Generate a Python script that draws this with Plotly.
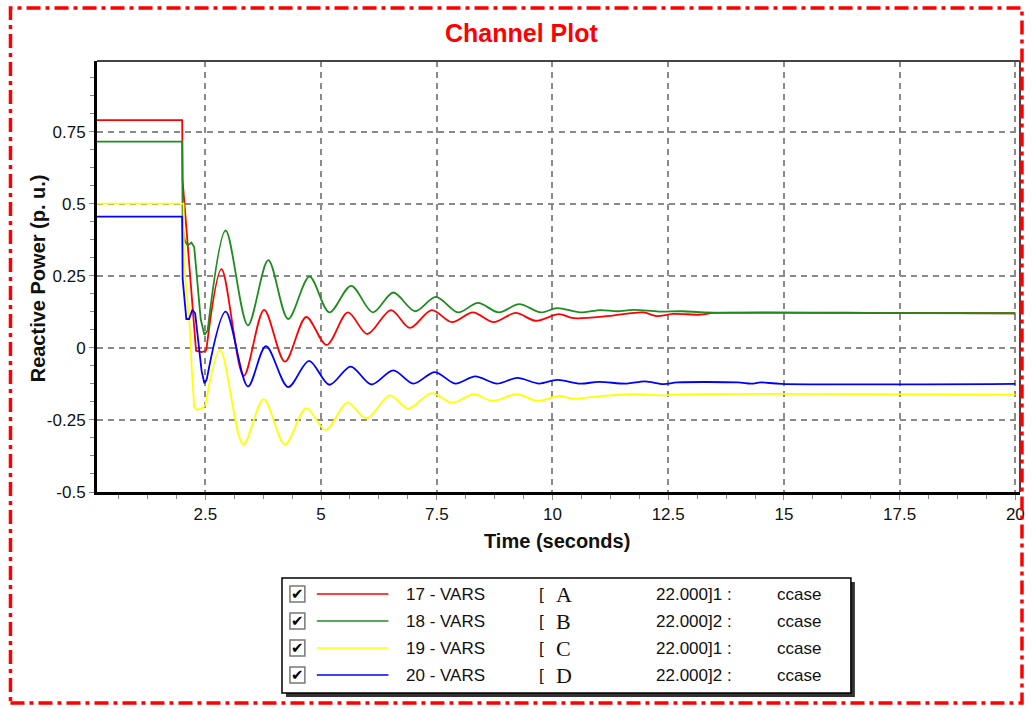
import plotly.graph_objects as go

# ---------------- data ----------------
red_t = [0.16, 2.0, 2.01, 2.05, 2.10, 2.15, 2.22, 2.30, 2.42, 2.52,
         2.85, 3.33, 3.77, 4.22, 4.68, 5.12, 5.58, 6.00, 6.51, 6.92, 7.39, 7.83,
         8.28, 8.73, 9.20, 9.64, 10.14, 10.46, 11.25, 11.96, 12.25, 12.60, 13.20,
         13.50, 17.50, 20.0]
red_v = [0.79, 0.79, 0.58, 0.50, 0.40, 0.27, 0.13, -0.01, -0.015, -0.01,
         0.273, -0.097, 0.132, -0.048, 0.107, 0.010, 0.123, 0.048, 0.131, 0.069, 0.131, 0.089,
         0.123, 0.089, 0.121, 0.094, 0.117, 0.103, 0.111, 0.123, 0.110, 0.118, 0.115,
         0.121, 0.121, 0.120]

green_t = [0.16, 2.0, 2.01, 2.06, 2.12, 2.20, 2.26, 2.33, 2.40, 2.48, 2.55,
           2.94, 3.42, 3.86, 4.29, 4.75, 5.18, 5.65, 6.12, 6.56, 7.03, 7.48, 7.96,
           8.39, 8.84, 9.28, 9.75, 10.10, 10.60, 11.04, 11.40, 11.75, 12.30, 12.80,
           13.30, 15.0, 20.0]
green_v = [0.715, 0.715, 0.42, 0.37, 0.355, 0.365, 0.35, 0.22, 0.10, 0.045, 0.06,
           0.407, 0.078, 0.304, 0.100, 0.247, 0.123, 0.215, 0.123, 0.192, 0.127, 0.177, 0.123,
           0.156, 0.123, 0.152, 0.123, 0.138, 0.123, 0.131, 0.127, 0.132, 0.126, 0.127,
           0.123, 0.121, 0.120]

yellow_t = [0.16, 2.03, 2.04, 2.09, 2.16, 2.21, 2.26, 2.32, 2.42, 2.50,
            2.82, 3.32, 3.76, 4.22, 4.68, 5.10, 5.57, 5.98, 6.49, 6.88, 7.39, 7.83,
            8.30, 8.70, 9.24, 9.67, 10.14, 10.46, 11.00, 11.75, 12.40, 12.60, 20.0]
yellow_v = [0.50, 0.50, 0.29, 0.20, 0.08, -0.08, -0.205, -0.215, -0.21, -0.20,
            -0.006, -0.335, -0.178, -0.335, -0.209, -0.285, -0.190, -0.245, -0.165, -0.211, -0.157, -0.191,
            -0.161, -0.184, -0.161, -0.184, -0.167, -0.176, -0.168, -0.161, -0.165, -0.162, -0.162]

blue_t = [0.16, 2.0, 2.01, 2.05, 2.09, 2.15, 2.22, 2.28, 2.36, 2.42, 2.48, 2.53,
          2.94, 3.42, 3.81, 4.29, 4.74, 5.18, 5.64, 6.09, 6.56, 6.99, 7.46, 7.90,
          8.33, 8.80, 9.24, 9.71, 10.10, 10.60, 11.00, 11.60, 12.00, 12.40, 12.70,
          14.00, 14.30, 14.50, 14.95, 20.0]
blue_v = [0.455, 0.455, 0.24, 0.17, 0.10, 0.10, 0.132, 0.12, 0.0, -0.08, -0.123, -0.11,
          0.126, -0.134, 0.006, -0.136, -0.045, -0.128, -0.065, -0.127, -0.078, -0.124, -0.084, -0.124,
          -0.099, -0.124, -0.104, -0.124, -0.111, -0.124, -0.118, -0.124, -0.116, -0.126, -0.120,
          -0.120, -0.124, -0.120, -0.125, -0.125]

x_ticks = [2.5, 5, 7.5, 10, 12.5, 15, 17.5, 20]
x_ticktext = ["2.5", "5", "7.5", "10", "12.5", "15", "17.5", "20"]
y_ticks = [-0.5, -0.25, 0, 0.25, 0.5, 0.75]
y_ticktext = ["-0.5", "-0.25", "0", "0.25", "0.5", "0.75"]

legend_names = ["17 - VARS", "18 - VARS", "19 - VARS", "20 - VARS"]
legend_letters = ["A", "B", "C", "D"]
legend_ids = ["22.000]1 :", "22.000]2 :", "22.000]1 :", "22.000]2 :"]
legend_case = ["ccase", "ccase", "ccase", "ccase"]

# ---------------- styling ----------------
colors = ["#FF0000", "#1E8C1E", "#FFFF00", "#0000FF"]
series = [(red_t, red_v), (green_t, green_v), (yellow_t, yellow_v), (blue_t, blue_v)]
# index where the smooth oscillation part starts (transient before is linear)
split = [9, 10, 9, 11]

W, H = 1031, 709
L, R, T, B = 97, 1025, 61, 492   # plot area in pixels


def px(x):
    return (x - L) / (R - L)


def py(y):
    return (B - y) / (B - T)


FONT = "Liberation Sans, Arial, sans-serif"

fig = go.Figure()
for (t, v), c, k in zip(series, colors, split):
    fig.add_trace(go.Scatter(x=t[:k + 1], y=v[:k + 1], mode="lines",
                             line=dict(color=c, width=1.8, shape="linear"),
                             showlegend=False, hoverinfo="skip"))
    fig.add_trace(go.Scatter(x=t[k:], y=v[k:], mode="lines",
                             line=dict(color=c, width=1.8, shape="spline", smoothing=0.9),
                             showlegend=False, hoverinfo="skip"))

grid = dict(showgrid=True, gridcolor="#8a8a8a", gridwidth=1.5, griddash="6px,5px",
            zeroline=False, showline=True, linecolor="black", linewidth=3,
            ticks="outside", ticklen=5, tickcolor="#888", tickwidth=1,
            tickfont=dict(family=FONT, size=17, color="#111"))

fig.update_xaxes(range=[0.16, 20.1], tickvals=x_ticks, ticktext=x_ticktext,
                 minor=dict(dtick=0.625, tick0=0, ticks="outside", ticklen=4,
                            tickcolor="#888", showgrid=False), **grid)
fig.update_yaxes(range=[-0.5, 0.995], tickvals=y_ticks, ticktext=y_ticktext,
                 minor=dict(dtick=0.0625, tick0=-0.5, ticks="outside", ticklen=4,
                            tickcolor="#888", showgrid=False), **grid)

shapes = []
# top and right frame lines
shapes.append(dict(type="line", xref="paper", yref="paper", x0=0, x1=1, y0=1, y1=1,
                   line=dict(color="#444", width=2)))
shapes.append(dict(type="line", xref="paper", yref="paper", x0=1, x1=1, y0=0, y1=1,
                   line=dict(color="#444", width=2)))
# outer red dash-dot border
shapes.append(dict(type="rect", xref="paper", yref="paper",
                   x0=px(10), x1=px(1027), y0=py(703), y1=py(8),
                   line=dict(color="#FF0000", width=3.5, dash="14px,5px,4px,5px")))
# legend box with shadow
shapes.append(dict(type="rect", xref="paper", yref="paper",
                   x0=px(287), x1=px(859), y0=py(697), y1=py(582),
                   fillcolor="#333", line=dict(width=0)))
shapes.append(dict(type="rect", xref="paper", yref="paper",
                   x0=px(283), x1=px(855), y0=py(693), y1=py(578),
                   fillcolor="white", line=dict(color="black", width=1.5)))

annotations = []
rows = [594, 621, 648, 675]
for i, yy in enumerate(rows):
    shapes.append(dict(type="rect", xref="paper", yref="paper",
                       x0=px(291), x1=px(306), y0=py(yy + 8), y1=py(yy - 8),
                       fillcolor="white", line=dict(color="#777", width=1.5)))
    shapes.append(dict(type="line", xref="paper", yref="paper",
                       x0=px(318), x1=px(390), y0=py(yy), y1=py(yy),
                       line=dict(color=colors[i], width=1.5)))
    annotations.append(dict(xref="paper", yref="paper", x=px(298.5), y=py(yy),
                            text="✔", showarrow=False, xanchor="center", yanchor="middle",
                            font=dict(family="DejaVu Sans", size=15, color="black")))
    for txt, xx, fam, sz in [(legend_names[i], 406, FONT, 17),
                             ("[", 539, FONT, 17),
                             (legend_letters[i], 556, "Liberation Serif, Times New Roman, serif", 22),
                             (legend_ids[i], 657, FONT, 17),
                             (legend_case[i], 779, FONT, 17)]:
        annotations.append(dict(xref="paper", yref="paper", x=px(xx), y=py(yy),
                                text=txt, showarrow=False, xanchor="left", yanchor="middle",
                                font=dict(family=fam, size=sz, color="#111")))

annotations.append(dict(xref="paper", yref="paper", x=px(524), y=py(33),
                        text="<b>Channel Plot</b>", showarrow=False,
                        xanchor="center", yanchor="middle",
                        font=dict(family=FONT, size=25, color="#FF0000")))
annotations.append(dict(xref="paper", yref="paper", x=px(559), y=py(541),
                        text="<b>Time (seconds)</b>", showarrow=False,
                        xanchor="center", yanchor="middle",
                        font=dict(family=FONT, size=20, color="#111")))
annotations.append(dict(xref="paper", yref="paper", x=px(38), y=py(278),
                        text="<b>Reactive Power (p. u.)</b>", showarrow=False, textangle=-90,
                        xanchor="center", yanchor="middle",
                        font=dict(family=FONT, size=20, color="#111")))

fig.update_layout(width=W, height=H, paper_bgcolor="white", plot_bgcolor="white",
                  margin=dict(l=L, r=W - R, t=T, b=H - B),
                  shapes=shapes, annotations=annotations, showlegend=False)

fig.write_html("out.html")
